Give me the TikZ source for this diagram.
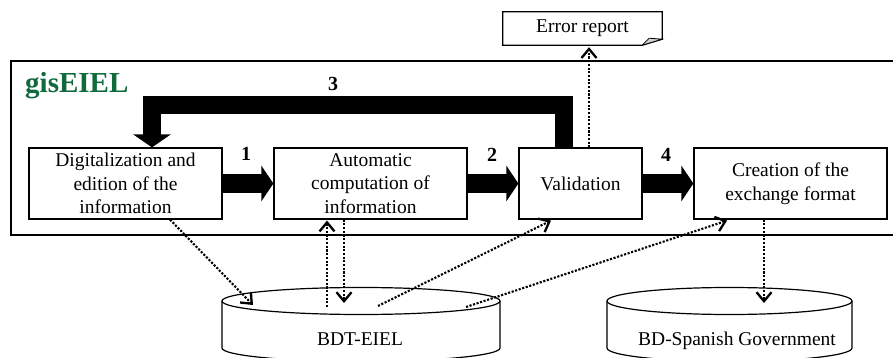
\documentclass[tikz,border=0pt]{standalone}
\usepackage{fontspec}
\setmainfont{Liberation Serif}
\usetikzlibrary{arrows.meta,calc}
\definecolor{gisgreen}{RGB}{16,106,60}
\begin{document}
\begin{tikzpicture}[x=1pt,y=-1pt,
  box/.style={draw,line width=1.2pt,inner sep=0pt,minimum height=71pt,align=center,font=\fontsize{19.5}{23.5}\selectfont},
  txt/.style={font=\fontsize{19.5}{23.5}\selectfont,inner sep=0pt},
  flow/.style={line width=18pt,line join=miter,-{Triangle[length=12pt,width=35pt]}},
  dotarrow/.style={line width=2.1pt,dash pattern=on 2.1pt off 1.6pt,-{Straight Barb[length=9pt,width=15pt,line width=2.3pt]}},
  num/.style={font=\fontsize{20}{24}\selectfont\bfseries,inner sep=0pt},
  cyl/.style={line width=1.2pt}]
\useasboundingbox (0,0) rectangle (893,358);
\clip (0,0) rectangle (893,358);

% gisEIEL frame
\draw[line width=1.2pt] (11,61) rectangle (905,235);
\node[anchor=base west,inner sep=0pt,font=\fontsize{29}{32}\selectfont\bfseries,text=gisgreen] (gis) at (25,93) {gisEIEL};

% process boxes
\node[box,minimum width=193pt] (b1) at (125.5,183.5) {Digitalization and\\edition of the\\information};
\node[box,minimum width=193pt] (b2) at (370.5,183.5) {Automatic\\computation of\\information};
\node[box,minimum width=123pt] (b3) at (580.5,183.5) {Validation};
\node[box,minimum width=193pt] (b4) at (790.5,183.5) {Creation of the\\exchange format};

% error report (folded corner)
\node[txt,minimum width=159pt,minimum height=33pt] (err) at (582.5,28.5) {Error report};
\draw[line width=1.2pt] (err.north west) -- (err.north east) -- ([yshift=6pt]err.south east)
  -- ([xshift=-20pt]err.south east) -- (err.south west) -- cycle;
\filldraw[fill=gray!35,line width=0.8pt] ([xshift=-20pt]err.south east) -- ([xshift=-13pt,yshift=7pt]err.south east)
  -- ([yshift=6pt]err.south east) -- cycle;

% databases
\node[txt,anchor=base] (bdt) at (360,345) {BDT-EIEL};
\draw[cyl] (361,301) ellipse[x radius=139pt,y radius=13.5pt];
\draw[cyl] (222,301) -- (222,348) arc[start angle=180,end angle=360,x radius=139pt,y radius=13.5pt] -- (500,301);
\node[txt,anchor=base] (gov) at (737,345) {BD-Spanish Government};
\draw[cyl] (729.5,301) ellipse[x radius=122.5pt,y radius=13.5pt];
\draw[cyl] (607,301) -- (607,348) arc[start angle=180,end angle=360,x radius=122.5pt,y radius=13.5pt] -- (852,301);

% thick flow arrows
\draw[flow] (b1.east) -- (b2.west);
\draw[flow] (b2.east) -- (b3.west);
\draw[flow] (b3.east) -- (b4.west);
\coordinate (fb) at (0,105);
\coordinate (s3) at ([xshift=-17pt]b3.north);
\coordinate (e3) at ([xshift=26.5pt]b1.north);
\draw[flow,-{Triangle[length=13pt,width=37pt]}] (s3) -- (s3 |- fb) -- (e3 |- fb) -- (e3);

\node[num] (n1) at (246,154) {1};
\node[num] (n2) at (492,155) {2};
\node[num] (n3) at (333,84) {3};
\node[num] (n4) at (666,155) {4};

% dotted data arrows
\coordinate (bdtIn1) at (253,305);
\coordinate (bdtOutUp) at (327,307);
\coordinate (bdtIn2) at (344,303);
\coordinate (bdtOutVal) at (378,306);
\coordinate (bdtOutCre) at (466,307);
\coordinate (govIn) at (764,303);
\draw[dotarrow] ([xshift=44.5pt]b1.south) -- (bdtIn1);
\draw[dotarrow] (bdtOutUp) -- ([xshift=-43.5pt,yshift=-1pt]b2.south);
\draw[dotarrow] ([xshift=-26.5pt]b2.south) -- (bdtIn2);
\draw[dotarrow] (bdtOutVal) -- ([xshift=-29.5pt,yshift=-1pt]b3.south);
\draw[dotarrow] (bdtOutCre) -- ([xshift=-63.5pt,yshift=-1pt]b4.south);
\draw[dotarrow] ([xshift=-26.5pt]b4.south) -- (govIn);
\draw[dotarrow] ([xshift=8.5pt]b3.north) -- ([xshift=6.5pt,yshift=-2pt]err.south);
\end{tikzpicture}
\end{document}
